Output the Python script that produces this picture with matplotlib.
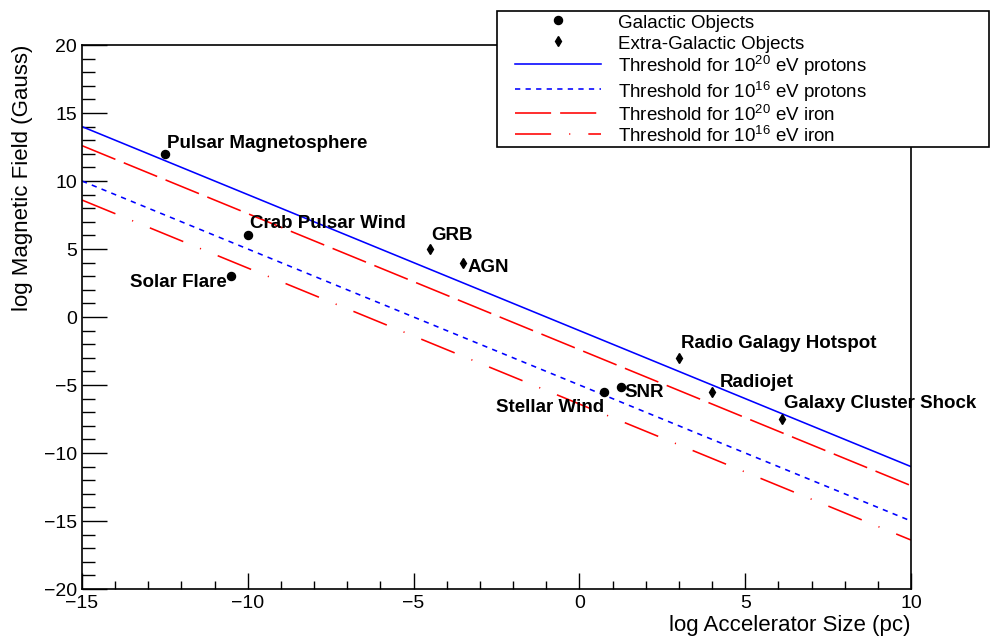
import matplotlib
matplotlib.use("Agg")
import matplotlib.pyplot as plt
from matplotlib.legend_handler import HandlerLine2D

plt.rcParams['font.family'] = ['Liberation Sans', 'DejaVu Sans']
plt.rcParams['mathtext.fontset'] = 'custom'
plt.rcParams['mathtext.rm'] = 'Liberation Sans'
plt.rcParams['mathtext.it'] = 'Liberation Sans:italic'
plt.rcParams['mathtext.bf'] = 'Liberation Sans:bold'
plt.rcParams['lines.scale_dashes'] = False

# Galactic sources: log size (pc), log B (G)
gal_names = ['Pulsar Magnetosphere', 'Crab Pulsar Wind', 'Solar Flare', 'Stellar Wind', 'SNR']
gal_x = [-12.5, -10.0, -10.5, 0.75, 1.25]
gal_y = [12.0, 6.0, 3.0, -5.5, -5.15]

# Extra-galactic sources
exg_names = ['GRB', 'AGN', 'Radio Galagy Hotspot', 'Radiojet', 'Galaxy Cluster Shock']
exg_x = [-4.5, -3.5, 3.0, 4.0, 6.1]
exg_y = [5.0, 4.0, -3.0, -5.5, -7.5]

# Hillas thresholds (end points at log R = -15 and 10)
thr_x = [-15, 10]
thr_p20 = [14.0, -11.0]
thr_p16 = [10.0, -15.0]
thr_fe20 = [12.6, -12.4]
thr_fe16 = [8.6, -16.4]

# label offsets in pixels (dx, dy, ha)
gal_off = [(2, 10, 'left'), (2, 12, 'left'), (-4, -6, 'right'), (0, -16, 'right'), (4, -5, 'left')]
exg_off = [(1, 13, 'left'), (4, -5, 'left'), (2, 14, 'left'), (8, 9, 'left'), (2, 15, 'left')]

W, H = 990, 639
fig = plt.figure(figsize=(W / 100, H / 100), dpi=100)
ax = fig.add_axes([82 / W, 1 - 589 / H, (911 - 82) / W, (589 - 45) / H])

lw = 1.15
ax.plot(thr_x, thr_p20, color='#0000ff', lw=lw, label=r'Threshold for 10$^{20}$ eV protons')
ax.plot(thr_x, thr_p16, color='#0000ff', lw=lw, dashes=(3.8, 3.8), label=r'Threshold for 10$^{16}$ eV protons')
ax.plot(thr_x, thr_fe20, color='#ff0000', lw=lw, dashes=(26, 6.5), label=r'Threshold for 10$^{20}$ eV iron')
ax.plot(thr_x, thr_fe16, color='#ff0000', lw=lw, dashes=(26, 13, 0.8, 13), label=r'Threshold for 10$^{16}$ eV iron')

ax.plot(gal_x, gal_y, ls='none', marker='o', ms=5.8, color='black', label='Galactic Objects')
ax.plot(exg_x, exg_y, ls='none', marker='d', ms=5.6, color='black', label='Extra-Galactic Objects')

px = 72 / 100
for names, xs, ys, offs in ((gal_names, gal_x, gal_y, gal_off), (exg_names, exg_x, exg_y, exg_off)):
    for n, x, y, (dx, dy, ha) in zip(names, xs, ys, offs):
        ax.annotate(n, (x, y), xytext=(dx * px, dy * px), textcoords='offset points',
                    ha=ha, va='center', fontsize=13.5, fontweight='bold')

ax.set_xlim(-15, 10)
ax.set_ylim(-20, 20)
ax.set_xticks(range(-15, 11, 5))
ax.set_xticks(range(-15, 11, 1), minor=True)
ax.set_yticks(range(-20, 21, 5))
ax.set_yticks(range(-20, 21, 1), minor=True)
ax.tick_params(axis='both', which='both', direction='in', labelsize=14, width=1.0)
ax.tick_params(axis='x', which='major', length=11.5, pad=4.5)
ax.tick_params(axis='x', which='minor', length=5.8)
ax.tick_params(axis='y', which='major', length=18, pad=3.6)
ax.tick_params(axis='y', which='minor', length=9.4)
for s in ax.spines.values():
    s.set_linewidth(1.2)

ax.set_xlabel('log Accelerator Size (pc)', fontsize=16, ha='right', x=1.0, labelpad=2)
ax.set_ylabel('log Magnetic Field (Gauss)', fontsize=16, ha='right', y=1.0, labelpad=8)

# legend in the upper right corner of the canvas
h, l = ax.get_legend_handles_labels()
order = [4, 5, 0, 1, 2, 3]
handles = [h[i] for i in order]
labels = [l[i] for i in order]
hmap = {handles[0]: HandlerLine2D(numpoints=1), handles[1]: HandlerLine2D(numpoints=1)}
for hd in handles[2:]:
    hmap[hd] = HandlerLine2D(numpoints=2, marker_pad=0.92)
leg = fig.legend(handles, labels, handler_map=hmap, loc='upper left',
                 bbox_to_anchor=(497 / W, 1 - 11 / H, (989 - 497) / W, 0.0001), mode='expand',
                 fontsize=13.5, frameon=True, fancybox=False, shadow=False, framealpha=1,
                 edgecolor='black', borderpad=0.06, handlelength=6.4, handletextpad=0.0,
                 handleheight=1.25, labelspacing=0.05, borderaxespad=0)
leg.get_frame().set_linewidth(1.2)

fig.savefig('out.png', dpi=100)
